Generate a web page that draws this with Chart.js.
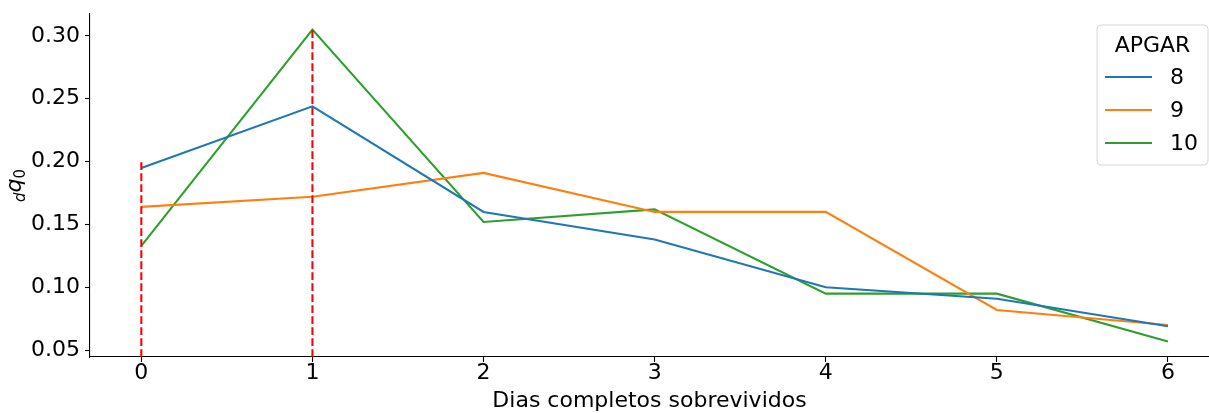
<!DOCTYPE html>
<html>
<head>
<meta charset="utf-8">
<script src="https://cdn.jsdelivr.net/npm/chart.js@4.4.1/dist/chart.umd.min.js"></script>
<style>
  html, body { margin: 0; padding: 0; background: #fff; overflow: hidden; }
  #wrap { width: 1209px; height: 413px; position: relative; }
</style>
</head>
<body>
<div id="wrap"><canvas id="c" width="1209" height="413"></canvas></div>
<script>
// Days of survival (x) and death probability per APGAR score
const days = [0, 1, 2, 3, 4, 5, 6];
const apgar8  = [0.195, 0.244, 0.160, 0.138, 0.100, 0.091, 0.069];
const apgar9  = [0.164, 0.172, 0.191, 0.160, 0.160, 0.082, 0.070];
const apgar10 = [0.133, 0.305, 0.152, 0.162, 0.095, 0.095, 0.057];
const seriesNames = ['8', '9', '10'];
const seriesColors = ['#1f77b4', '#ff7f0e', '#2ca02c'];

// Highlighted days (red dashed markers) and their heights
const markerDays = [0, 1];
const markerTops = [0.200, 0.305];

const yTicks = [0.05, 0.10, 0.15, 0.20, 0.25, 0.30];
const yMin = 0.0446, yMax = 0.3174;
const xMin = -0.3, xMax = 6.24;

const FONT = "'DejaVu Sans', sans-serif";

const toPoints = vals => days.map((d, i) => ({ x: d, y: vals[i] }));

const lineSets = [apgar8, apgar9, apgar10].map((vals, i) => ({
  label: seriesNames[i],
  data: toPoints(vals),
  borderColor: seriesColors[i],
  backgroundColor: seriesColors[i],
  borderWidth: 2.08,
  pointRadius: 0,
  tension: 0,
  fill: false,
  isSeries: true
}));

const markerSets = markerDays.map((d, i) => ({
  label: 'marker' + i,
  data: [{ x: d, y: yMin }, { x: d, y: markerTops[i] }],
  borderColor: 'red',
  borderWidth: 2.08,
  borderDash: [7.7, 3.3],
  pointRadius: 0,
  tension: 0,
  fill: false,
  isSeries: false
}));

// y-axis title: _d q_0 with subscripts
const yTitlePlugin = {
  id: 'yTitle',
  afterDraw(chart) {
    const ctx = chart.ctx;
    const cy = (chart.chartArea.top + chart.chartArea.bottom) / 2;
    ctx.save();
    ctx.translate(21, cy);
    ctx.rotate(-Math.PI / 2);
    ctx.fillStyle = '#000';
    ctx.textBaseline = 'alphabetic';
    ctx.textAlign = 'left';
    const big = "italic 22px " + FONT;
    const smallIt = "italic 15px " + FONT;
    const small = "15px " + FONT;
    ctx.font = smallIt; const wd = ctx.measureText('d').width;
    ctx.font = big; const wq = ctx.measureText('q').width;
    ctx.font = small; const w0 = ctx.measureText('0').width;
    let x = -(wd + wq + w0) / 2;
    ctx.font = smallIt; ctx.fillText('d', x, 3.5); x += wd;
    ctx.font = big; ctx.fillText('q', x, 0); x += wq;
    ctx.font = small; ctx.fillText('0', x, 3.5);
    ctx.restore();
  }
};

// Legend box in the upper right
const legendPlugin = {
  id: 'boxLegend',
  afterDraw(chart) {
    const ctx = chart.ctx;
    const L = 1097, T = 25, W = 111, H = 140, r = 4;
    ctx.save();
    ctx.beginPath();
    ctx.moveTo(L + r, T);
    ctx.arcTo(L + W, T, L + W, T + H, r);
    ctx.arcTo(L + W, T + H, L, T + H, r);
    ctx.arcTo(L, T + H, L, T, r);
    ctx.arcTo(L, T, L + W, T, r);
    ctx.closePath();
    ctx.fillStyle = 'rgba(255,255,255,0.8)';
    ctx.fill();
    ctx.strokeStyle = '#d6d6d6';
    ctx.lineWidth = 1;
    ctx.stroke();

    ctx.fillStyle = '#000';
    ctx.font = "22px " + FONT;
    ctx.textBaseline = 'middle';
    ctx.textAlign = 'center';
    ctx.fillText('APGAR', 1152.5, 46);

    const sets = chart.data.datasets.filter(d => d.isSeries);
    const rows = [77, 110, 143];
    ctx.textAlign = 'left';
    sets.forEach((ds, i) => {
      ctx.strokeStyle = ds.borderColor;
      ctx.lineWidth = 2.08;
      ctx.beginPath();
      ctx.moveTo(1105, rows[i]);
      ctx.lineTo(1152, rows[i]);
      ctx.stroke();
      ctx.fillStyle = '#000';
      ctx.fillText(ds.label, 1170, rows[i] + 1);
    });
    ctx.restore();
  }
};

new Chart(document.getElementById('c'), {
  type: 'line',
  data: { datasets: [...markerSets, ...lineSets] },
  options: {
    responsive: false,
    animation: false,
    parsing: true,
    layout: { padding: { left: 0, right: 0, top: 14, bottom: 0 } },
    plugins: { legend: { display: false }, tooltip: { enabled: false } },
    scales: {
      x: {
        type: 'linear',
        min: xMin,
        max: xMax,
        afterBuildTicks(scale) { scale.ticks = days.map(v => ({ value: v })); },
        afterFit(scale) { scale.height = 56; scale.paddingLeft = 0; scale.paddingRight = 0; },
        ticks: {
          color: '#000',
          font: { family: FONT, size: 22 },
          padding: -2,
          maxRotation: 0,
          callback: v => String(v)
        },
        grid: { display: true, drawOnChartArea: false, drawTicks: true, tickLength: 5, tickColor: '#000', tickWidth: 1.1 },
        border: { display: true, color: '#000', width: 1.1 },
        title: {
          display: true,
          text: 'Dias completos sobrevividos',
          color: '#000',
          font: { family: FONT, size: 22, lineHeight: 1.1 },
          padding: 0
        }
      },
      y: {
        type: 'linear',
        min: yMin,
        max: yMax,
        afterBuildTicks(scale) { scale.ticks = yTicks.map(v => ({ value: v })); },
        afterFit(scale) { scale.width = 90; scale.paddingTop = 0; scale.paddingBottom = 0; },
        ticks: {
          color: '#000',
          font: { family: FONT, size: 22 },
          padding: 5,
          callback: v => v.toFixed(2)
        },
        grid: { display: true, drawOnChartArea: false, drawTicks: true, tickLength: 5, tickColor: '#000', tickWidth: 1.1 },
        border: { display: true, color: '#000', width: 1.1 }
      }
    }
  },
  plugins: [yTitlePlugin, legendPlugin]
});
</script>
</body>
</html>
